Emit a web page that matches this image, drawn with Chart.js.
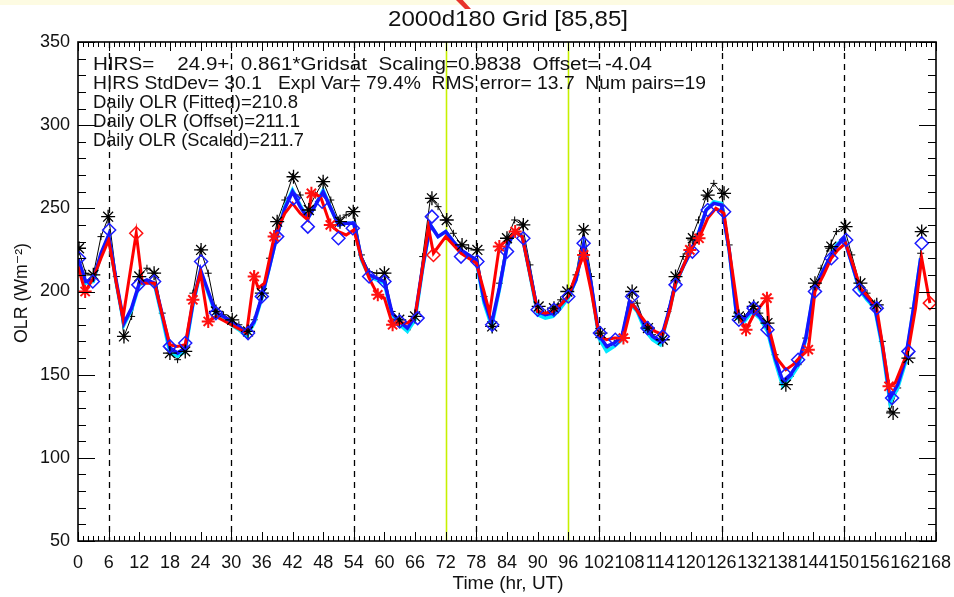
<!DOCTYPE html>
<html><head><meta charset="utf-8">
<script src="https://cdn.jsdelivr.net/npm/chart.js@4/dist/chart.umd.min.js"></script>
<style>
html,body{margin:0;padding:0;background:#fff;}
#wrap{position:relative;width:954px;height:597px;overflow:hidden;background:#fff;}
#band{position:absolute;left:0;top:0;width:954px;height:5px;background:#fdfbe2;}
#mark{position:absolute;left:456px;top:0;width:15px;height:9px;background:#e8322a;clip-path:polygon(0 0,45% 0,100% 100%,60% 100%);}
canvas{position:absolute;left:0;top:0;}
</style></head><body>
<div id="wrap"><div id="band"></div><div id="mark"></div><canvas id="c" width="954" height="597"></canvas></div>
<script>
// ---------- texts ----------
const titleText = '2000d180 Grid [85,85]';
const xTitle = 'Time (hr, UT)';
const yTitle = 'OLR (Wm\u207B\u00B2)';
const statLines = [
  'HIRS=    24.9+  0.861*Gridsat  Scaling=0.9838  Offset= -4.04',
  'HIRS StdDev= 30.1   Expl Var= 79.4%  RMS error= 13.7  Num pairs=19',
  'Daily OLR (Fitted)=210.8',
  'Daily OLR (Offset)=211.1',
  'Daily OLR (Scaled)=211.7'
];
// ---------- axes ----------
const xMin = 0, xMax = 168, xStep = 6;
const yMin = 50, yMax = 350, yStep = 50;
const dayLineTimes = [6, 30, 54, 78, 102, 126, 150];
const markerLineTimes = [72, 96];

// ---------- series ----------
const gridTimes = [0,1.5,3,4.5,6,7.5,9,10.5,12,13.5,15,16.5,18,19.5,21,22.5,24,25.5,27,28.5,30,31.5,33,34.5,36,37.5,39,40.5,42,43.5,45,46.5,48,49.5,51,52.5,54,55.5,57,58.5,60,61.5,63,64.5,66,67.5,69,70.5,72,73.5,75,76.5,78,79.5,81,82.5,84,85.5,87,88.5,90,91.5,93,94.5,96,97.5,99,100.5,102,103.5,105,106.5,108,109.5,111,112.5,114,115.5,117,118.5,120,121.5,123,124.5,126,127.5,129,130.5,132,133.5,135,136.5,138,139.5,141,142.5,144,145.5,147,148.5,150,151.5,153,154.5,156,157.5,159,160.5,162,163.5,165];
const gridsatOLR = [226,211,210,233,245,209,173,185,209,214,211,187,163,159,164,199,225,211,188,186,183,180,176,183,199,220,242,255,269,258,249,258,266,255,243,246,248,222,212,211,211,188,183,177,185,221,256,251,243,235,228,226,225,197,179,205,232,243,240,216,191,187,190,195,200,210,237,209,175,166,169,174,198,193,180,174,171,188,209,221,231,243,257,265,259,228,187,185,191,187,181,162,145,149,156,172,203,214,226,236,239,222,205,199,193,170,128,142,157,190,223];
const scaledOLR  = [220,206,207,223,234,206,181,190,205,207,205,186,166,163,166,193,213,200,187,185,182,179,175,182,197,215,234,250,260,251,244,252,260,250,240,241,241,220,210,208,206,187,182,178,185,215,240,233,236,230,225,222,219,195,181,202,227,236,233,211,188,186,187,192,197,207,228,204,174,167,169,173,194,189,179,173,170,186,205,215,224,235,249,253,252,225,185,184,189,185,178,160,146,150,157,172,199,210,219,227,232,217,202,196,191,168,136,144,159,188,220];
const offsetOLR  = [219,205,206,222,233,205,180,189,204,206,204,184,163,161,164,192,212,199,186,184,180,177,173,181,196,215,234,251,261,252,244,252,261,250,240,241,241,219,209,207,205,185,180,176,183,214,240,233,236,230,224,221,218,193,179,201,227,236,233,210,186,184,185,190,196,207,228,203,172,164,167,171,193,188,177,171,168,185,204,215,224,235,249,254,253,225,184,182,188,184,176,158,143,148,155,171,199,210,219,228,232,217,201,195,190,166,133,142,157,188,220];
const fittedTimes = [0,1.4,3,4.5,6,7.5,8.8,11.4,12.6,15,16.5,18,19.4,21,22.5,24,25.5,27,30,33,34.5,35.3,36.5,38.4,40.5,42,43.5,45,45.7,47.5,49.4,51,52.5,54,55.5,57,58.7,60,61.6,63,64.5,66,67.5,68.6,69.6,72,73.5,75,78,79.5,80.6,82.5,84,85.6,87,88.5,90,91.5,93,94.5,96,97.5,99,100.5,102,103.5,105,106.8,108.5,110,111.5,113,114.5,116,117,118.5,119.8,121.6,123.3,124.9,126.5,128,129.4,130.8,132.3,134.9,135.3,136.8,138.6,140,141.2,143,144.3,146,147.5,148.8,150.3,152,153.2,155,156.4,158.8,160,162.6,164,165.2,166.8];
const fittedOLR   = [215,200,208,220,231,205,184,235,205,205,186,168,167,168,195,211,182,185,180,175,209,202,205,233,247,253,247,243,259,257,240,236,234,237,220,208,198,196,180,181,181,185,215,239,223,233,228,223,217,200,187,227,231,236,233,210,188,187,188,192,197,210,222,200,174,171,172,172,193,186,180,176,174,190,205,215,225,232,244,250,247,215,185,177,186,196,178,160,153,156,160,165,200,210,220,225,229,214,202,196,190,143,145,165,190,220,193];
// black asterisks
const starTimes = [0.2,3,5.9,9,12,14.9,18,21,24.1,27,30.2,33.3,36,39,42.2,45.2,48,51.3,53.9,60,62.9,66,69.3,72.2,75.2,78.2,81.1,84,87.2,90.2,93.2,95.8,99,102.3,108.5,111.6,114.5,117,120.4,123.3,126.5,129.4,132.3,135,138.6,144.3,147.5,150.3,153.2,156.4,159.6,162.6,165.2];
const starOLR   = [226,210,245,173,209,211,163,164,225,188,183,176,199,242,269,249,266,242,248,211,183,185,256,243,228,225,179,232,240,191,190,200,237,175,200,178,171,209,232,258,259,185,191,181,144,205,227,239,205,192,127,160,236];
// blue diamonds
const diamondTimes = [0.2,2.9,6.1,11.8,14.9,18,21,24.1,27,33.3,36,39,42.2,45,47.8,51,53.8,57,60,63,66.5,69.3,75,78.2,81.1,84,87.2,90,93.2,96,99,102.2,105.2,108.5,111.5,114.5,117,120.3,123.3,126.5,129.4,132.3,135,138.6,141,144.3,147.5,150.4,153,156.4,159.4,162.6,165.2];
const diamondOLR   = [220,206,237,204,206,167,169,218,187,175,197,233,256,239,254,232,238,209,206,182,184,245,221,218,180,224,232,189,189,197,229,175,171,197,178,173,204,224,249,248,183,190,177,150,159,200,220,231,201,190,136,164,229];
// red HIRS markers
const hirsTimes = [1.4,22.5,25.5,34.5,38.4,45.7,49.4,58.7,61.6,82.5,85.6,99,106.8,119.8,121.6,130.8,134.9,143,158.8];
const hirsOLR   = [200,195,182,209,233,259,240,198,180,227,236,222,172,225,232,177,196,165,143];
const hirsExtraTimes = [11.4,69.6,166.8];
const hirsExtraOLR   = [235,222,193];

function pts(xs, ys) { return xs.map((x, i) => ({ x: x, y: ys[i] })); }

const FONT = "'Liberation Sans', 'DejaVu Sans', Arial, sans-serif";
const TXT = '#111';

function fitText(ctx, text, x, yc, w, size, align) {
  ctx.save();
  ctx.font = size + 'px ' + FONT;
  ctx.textBaseline = 'middle';
  ctx.textAlign = 'left';
  const mw = ctx.measureText(text).width;
  const s = w / mw;
  let x0 = x;
  if (align === 'center') x0 = x - w / 2;
  ctx.translate(x0, yc);
  ctx.scale(s, 1);
  ctx.fillText(text, 0, 0);
  ctx.restore();
}

const overlay = {
  id: 'overlay',
  beforeDatasetsDraw(chart) {
    const ctx = chart.ctx, a = chart.chartArea, xs = chart.scales.x;
    ctx.save();
    ctx.strokeStyle = '#000';
    ctx.lineWidth = 1.3;
    ctx.setLineDash([6, 5]);
    dayLineTimes.forEach(t => {
      const px = Math.round(xs.getPixelForValue(t)) + 0.5;
      ctx.beginPath(); ctx.moveTo(px, a.top); ctx.lineTo(px, a.bottom); ctx.stroke();
    });
    ctx.setLineDash([]);
    ctx.strokeStyle = '#c6f000';
    ctx.lineWidth = 1.6;
    markerLineTimes.forEach(t => {
      const px = Math.round(xs.getPixelForValue(t)) + 0.5;
      ctx.beginPath(); ctx.moveTo(px, a.top); ctx.lineTo(px, a.bottom); ctx.stroke();
    });
    ctx.restore();
  },
  afterDraw(chart) {
    const ctx = chart.ctx, a = chart.chartArea, xs = chart.scales.x, ys = chart.scales.y;
    ctx.save();
    ctx.strokeStyle = '#000';
    ctx.lineWidth = 1;
    ctx.beginPath();
    for (let t = xMin; t <= xMax; t++) {
      const px = Math.round(xs.getPixelForValue(t)) + 0.5;
      const len = (t % xStep === 0) ? 9 : 5;
      ctx.moveTo(px, a.bottom); ctx.lineTo(px, a.bottom - len);
      ctx.moveTo(px, a.top); ctx.lineTo(px, a.top + len);
    }
    for (let v = yMin; v <= yMax; v += 10) {
      const py = Math.round(ys.getPixelForValue(v)) + 0.5;
      const len = (v % yStep === 0) ? 17 : 8;
      ctx.moveTo(a.left, py); ctx.lineTo(a.left + len, py);
      ctx.moveTo(a.right, py); ctx.lineTo(a.right - len, py);
    }
    ctx.stroke();
    ctx.lineWidth = 1.6;
    ctx.strokeRect(a.left, a.top, a.right - a.left, a.bottom - a.top);
    ctx.fillStyle = TXT;
    fitText(ctx, titleText, 508, 20, 240, 22, 'center');
    const sx = 93, sy = [65, 84, 103, 122, 141], sw = [559, 613, 205, 207, 211];
    statLines.forEach((s, i) => fitText(ctx, s, sx, sy[i], sw[i], 18, 'left'));
    fitText(ctx, xTitle, 508, 584, 111, 18, 'center');
    ctx.save();
    ctx.translate(22, 293);
    ctx.rotate(-Math.PI / 2);
    fitText(ctx, yTitle, 0, 0, 100, 18, 'center');
    ctx.restore();
    ctx.restore();
  }
};

const lineDs = (label, data, color, width, order) => ({
  label, data, showLine: true, borderColor: color, backgroundColor: color,
  borderWidth: width, pointRadius: 0, order: order, tension: 0
});
const markDs = (label, data, style, color, radius, bw, order) => ({
  label, data, showLine: false, pointStyle: style, pointRadius: radius,
  pointBorderColor: color, pointBackgroundColor: 'rgba(0,0,0,0)', pointBorderWidth: bw,
  borderColor: color, backgroundColor: 'rgba(0,0,0,0)', order: order
});

new Chart(document.getElementById('c'), {
  type: 'scatter',
  data: {
    datasets: [
      Object.assign(lineDs('Gridsat', pts(gridTimes, gridsatOLR), '#000', 1, 8), {
        pointStyle: 'cross', pointRadius: 3.5, pointBorderWidth: 1, pointBorderColor: '#000'
      }),
      lineDs('Offset', pts(gridTimes, offsetOLR), '#00e8ff', 3.5, 7),
      lineDs('Scaled', pts(gridTimes, scaledOLR), '#1414ff', 3.5, 6),
      lineDs('Fitted', pts(fittedTimes, fittedOLR), '#ff0000', 3, 5),
      markDs('Gridsat at HIRS', pts(starTimes, starOLR), 'star', '#000', 7, 1.3, 3),
      markDs('Scaled at HIRS', pts(diamondTimes, diamondOLR), 'rectRot', '#1a1aff', 6.5, 1.5, 2),
      markDs('HIRS', pts(hirsTimes, hirsOLR), 'star', '#ff1010', 6.5, 2, 1),
      markDs('HIRS unpaired', pts(hirsExtraTimes, hirsExtraOLR), 'rectRot', '#ff1010', 6.5, 1.5, 0)
    ]
  },
  options: {
    responsive: false, animation: false, devicePixelRatio: 1,
    layout: { padding: { left: 0, right: 18, top: 42, bottom: 0 } },
    plugins: { legend: { display: false }, title: { display: false }, tooltip: { enabled: false } },
    scales: {
      x: {
        type: 'linear', min: xMin, max: xMax,
        afterFit(s) { s.height = 56; s.paddingLeft = 0; s.paddingRight = 0; },
        grid: { display: false, drawTicks: false }, border: { display: false },
        ticks: { stepSize: xStep, autoSkip: false, maxRotation: 0, minRotation: 0, padding: 11,
          color: TXT, font: { family: FONT, size: 18 }, callback: v => String(v) }
      },
      y: {
        type: 'linear', min: yMin, max: yMax,
        afterFit(s) { s.width = 78; s.paddingTop = 0; s.paddingBottom = 0; },
        grid: { display: false, drawTicks: false }, border: { display: false },
        ticks: { stepSize: yStep, padding: 8, color: TXT, font: { family: FONT, size: 18 }, callback: v => String(v) }
      }
    }
  },
  plugins: [overlay]
});
</script>
</body></html>
